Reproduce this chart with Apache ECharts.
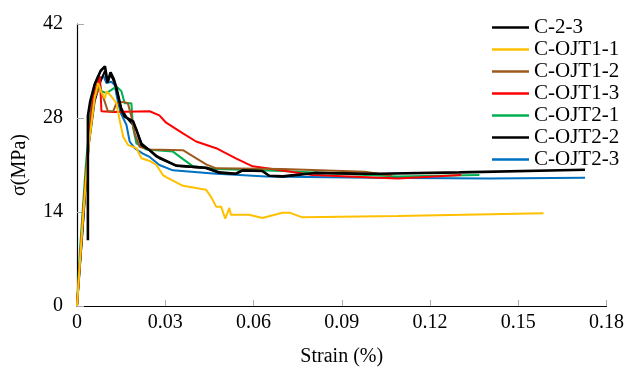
<!DOCTYPE html>
<html>
<head>
<meta charset="utf-8">
<script src="https://cdn.jsdelivr.net/npm/echarts@6/dist/echarts.min.js"></script>
<style>
  html, body { margin: 0; padding: 0; background: #fff; }
  #chart { width: 627px; height: 372px; }
</style>
</head>
<body>
<div id="chart"></div>
<script>
const names = ['C-2-3', 'C-OJT1-1', 'C-OJT1-2', 'C-OJT1-3', 'C-OJT2-1', 'C-OJT2-2', 'C-OJT2-3'];
const colors = ['#000000', '#FFC000', '#9C5A1E', '#FF0000', '#00B050', '#000000', '#0070C0'];

const c23 = [[0.0037, 9.8], [0.0037, 28.3], [0.0045, 30.5], [0.006, 33.0], [0.008, 35.0], [0.0095, 35.7], [0.0104, 33.3], [0.0114, 34.8], [0.0125, 33.8], [0.0134, 32.5], [0.0151, 29.2], [0.0162, 28.2], [0.0191, 27.5], [0.0202, 26.2], [0.0219, 24.0], [0.0247, 23.2], [0.027, 22.3], [0.0337, 20.9], [0.044, 20.6], [0.0484, 19.9], [0.054, 19.7], [0.0563, 20.2], [0.063, 20.1], [0.0653, 19.4], [0.07, 19.3], [0.081, 19.8], [0.095, 19.7], [0.1024, 19.7], [0.13, 19.9], [0.1727, 20.3]];
const ojt11 = [[0, 0], [0.002, 13], [0.004, 24], [0.006, 31], [0.0072, 33.2], [0.0083, 31.8], [0.0095, 30.9], [0.01, 32.0], [0.0117, 31.2], [0.0134, 30.2], [0.0145, 27.7], [0.0157, 25.2], [0.0173, 24.0], [0.0202, 23.5], [0.0219, 22.0], [0.0247, 21.6], [0.027, 21.0], [0.0292, 19.5], [0.0303, 19.2], [0.036, 17.9], [0.0439, 17.3], [0.0455, 16.3], [0.0473, 14.8], [0.049, 14.8], [0.0504, 13.0], [0.0518, 14.6], [0.0523, 13.6], [0.0585, 13.6], [0.063, 13.1], [0.0698, 13.9], [0.0723, 13.9], [0.0766, 13.2], [0.109, 13.4], [0.1586, 13.8]];
const ojt12 = [[0, 0], [0.002, 13], [0.004, 24.5], [0.006, 31], [0.0078, 32.7], [0.009, 31], [0.0105, 29.0], [0.0123, 29.0], [0.0134, 30.2], [0.0157, 30.4], [0.0173, 30.2], [0.0185, 28.2], [0.0196, 25.7], [0.0213, 23.7], [0.0247, 23.3], [0.036, 23.2], [0.0439, 21.1], [0.0473, 20.5], [0.0698, 20.4], [0.0979, 20.0], [0.107, 19.4]];
const ojt13 = [[0, 0], [0.002, 13.5], [0.004, 25], [0.0055, 31.2], [0.0078, 34.2], [0.0083, 29.0], [0.0123, 28.9], [0.0247, 29.0], [0.028, 28.4], [0.0303, 27.3], [0.036, 25.7], [0.0405, 24.5], [0.0473, 23.5], [0.054, 22.0], [0.0597, 20.8], [0.0664, 20.4], [0.08, 19.5], [0.109, 19.0], [0.1306, 19.5]];
const ojt21 = [[0, 0], [0.001, 8.3], [0.003, 21], [0.005, 30.5], [0.0061, 33.2], [0.0072, 34.3], [0.0083, 32.0], [0.01, 31.7], [0.0117, 32.2], [0.0134, 32.7], [0.0151, 32.0], [0.0162, 30.2], [0.0185, 30.2], [0.019, 26.7], [0.0202, 24.2], [0.0236, 23.3], [0.0326, 23.0], [0.0394, 20.8], [0.0473, 20.4], [0.0698, 20.1], [0.109, 19.3], [0.1368, 19.5]];
const ojt22 = [[0, 0], [0.002, 12], [0.004, 24], [0.006, 30.5], [0.008, 33.5], [0.0095, 35.0], [0.0104, 33.3], [0.0114, 34.5], [0.013, 33], [0.015, 29.5], [0.017, 28], [0.02, 26.5], [0.022, 24.2], [0.0247, 23.2], [0.028, 22.0], [0.0337, 20.9], [0.0439, 20.5], [0.0484, 19.8], [0.054, 19.7], [0.0563, 20.2], [0.063, 20.1], [0.0653, 19.4], [0.07, 19.3], [0.081, 19.9], [0.1024, 19.7]];
const ojt23 = [[0, 0], [0.002, 12], [0.0044, 28.2], [0.0072, 32.7], [0.0089, 34.4], [0.01, 33.2], [0.0117, 33.4], [0.0128, 32.9], [0.014, 30.2], [0.0151, 28.5], [0.0168, 27.0], [0.0179, 24.5], [0.0196, 23.5], [0.0224, 22.7], [0.0247, 22.2], [0.028, 21.0], [0.0326, 20.2], [0.0473, 19.7], [0.0523, 19.6], [0.0642, 19.3], [0.1, 19.1], [0.14, 19.0], [0.1727, 19.1]];

const seriesData = [c23, ojt11, ojt12, ojt13, ojt21, ojt22, ojt23];
const xTicks = [0, 0.03, 0.06, 0.09, 0.12, 0.15, 0.18];
const yTicks = [0, 14, 28, 42];

const font = 'Liberation Serif';
const myChart = echarts.init(document.getElementById('chart'));

const option = {
  animation: false,
  grid: { left: 77, right: 18, top: 24, bottom: 66 },
  legend: {
    orient: 'vertical',
    left: 487,
    top: 12,
    icon: 'rect',
    itemWidth: 37,
    itemHeight: 2.5,
    itemGap: 1,
    textStyle: { fontFamily: font, fontSize: 21, color: '#000', lineHeight: 21 },
    data: names
  },
  xAxis: {
    type: 'value',
    min: xTicks[0],
    max: xTicks[xTicks.length - 1],
    interval: 0.03,
    name: 'Strain (%)',
    nameLocation: 'middle',
    nameGap: 41,
    nameTextStyle: { fontFamily: font, fontSize: 20, color: '#000' },
    axisLine: { lineStyle: { color: '#000', width: 1.2 } },
    axisTick: { inside: true, length: 6, lineStyle: { color: '#aaa' } },
    axisLabel: { fontFamily: font, fontSize: 20, color: '#000', margin: 7 },
    splitLine: { show: false }
  },
  yAxis: {
    type: 'value',
    min: yTicks[0],
    max: yTicks[yTicks.length - 1],
    interval: 14,
    name: 'σ(MPa)',
    nameLocation: 'middle',
    nameGap: 47,
    nameTextStyle: { fontFamily: font, fontSize: 20, color: '#000' },
    axisLine: { show: true, lineStyle: { color: '#000', width: 1.2 } },
    axisTick: { show: true, inside: true, length: 7, lineStyle: { color: '#aaa' } },
    axisLabel: { fontFamily: font, fontSize: 20, color: '#000', margin: 14 },
    splitLine: { show: false }
  },
  series: names.map((n, i) => ({
    name: n,
    type: 'line',
    data: seriesData[i],
    showSymbol: false,
    symbol: 'none',
    color: colors[i],
    lineStyle: { color: colors[i], width: i === 0 ? 2.6 : 2 },
    z: 10 - i
  }))
};

option && myChart.setOption(option);
</script>
</body>
</html>
